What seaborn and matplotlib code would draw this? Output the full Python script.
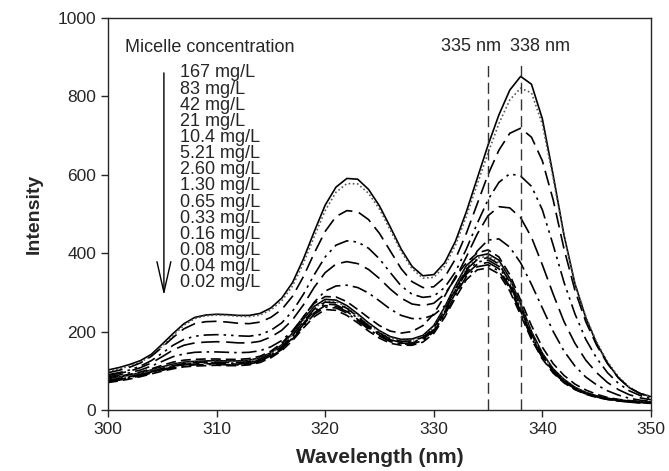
import numpy as np
import pandas as pd
import matplotlib
matplotlib.use('Agg')
import matplotlib.pyplot as plt
import seaborn as sns

# wavelength grid read at 1 nm steps (300 - 350 nm)
wavelength = list(range(300, 351))

conc_labels = ['167 mg/L', '83 mg/L', '42 mg/L', '21 mg/L', '10.4 mg/L', '5.21 mg/L', '2.60 mg/L',
               '1.30 mg/L', '0.65 mg/L', '0.33 mg/L', '0.16 mg/L', '0.08 mg/L', '0.04 mg/L', '0.02 mg/L']

# intensities
i_167 = [102,108,116,126,142,168,195,220,236,242, 244,243,241,241,246,260,285,325,385,455,
         522,568,590,588,562,520,466,410,366,342, 345,375,430,505,590,675,752,815,850,830,
         742,598,445,322,235,170,120,82,57,42,34]
i_83 = [98,104,112,122,138,163,190,216,233,240, 242,241,239,238,242,255,278,316,374,442,
        508,555,577,576,552,512,458,404,360,336, 338,366,420,493,575,655,730,790,820,808,
        728,590,442,322,238,173,123,85,59,43,35]
i_42 = [95,101,109,120,137,160,185,207,220,225, 226,224,221,220,224,236,256,290,340,400,
        455,493,508,505,485,450,405,360,327,312, 314,338,385,450,525,600,662,705,718,695,
        635,535,410,305,225,165,118,82,57,42,33]
i_21 = [90,95,102,112,126,145,165,180,188,191, 192,191,189,188,192,203,222,252,295,345,
        390,420,431,428,412,385,350,316,295,287, 290,312,352,410,475,536,580,602,596,570,
        510,420,325,245,180,132,95,68,49,37,29]
i_10 = [88,93,99,108,120,136,153,165,171,173, 174,173,171,171,175,186,203,230,268,313,
        350,372,378,373,358,335,308,285,270,266, 272,295,335,390,448,495,518,515,490,440,
        370,295,225,170,127,95,70,52,39,31,26]
i_5 = [85,89,95,102,112,124,136,143,147,148, 148,147,146,147,151,161,177,202,237,275,
       303,316,318,312,298,278,257,241,233,233, 242,265,305,355,405,433,436,415,375,320,
       260,200,150,112,84,64,49,38,30,25,22]
i_2 = [82,86,91,97,105,114,122,127,129,130, 130,129,129,131,137,150,170,200,238,272,
       289,288,276,256,235,215,201,196,200,215, 245,290,340,375,400,408,390,345,280,215,
       160,118,88,66,51,40,32,27,24,22,20]
i_1 = [80,84,89,95,102,110,117,122,124,125, 126,125,125,127,133,146,166,196,232,264,
       282,280,266,245,222,202,187,180,181,190, 215,262,318,368,392,398,382,335,270,200,
       145,105,78,58,45,36,30,26,23,21,20]
i_065 = [78,82,87,93,100,108,115,120,122,123, 124,123,123,125,131,144,163,192,228,260,
         278,276,262,241,218,199,184,177,178,187, 211,258,313,362,387,392,376,330,265,196,
         142,103,76,57,44,35,29,25,22,20,19]
i_033 = [76,80,85,91,98,106,113,118,121,122, 122,121,121,123,129,142,161,190,225,257,
         275,273,259,238,215,196,181,175,176,185, 208,254,309,358,383,388,372,326,261,193,
         140,101,75,56,43,35,29,25,22,20,19]
i_016 = [75,79,84,90,97,104,111,116,119,120, 120,119,119,121,127,140,159,187,221,252,
         270,268,254,234,212,193,179,172,173,182, 205,250,303,351,377,382,366,320,256,190,
         137,99,73,55,42,34,28,24,21,19,18]
i_008 = [74,78,83,89,96,103,110,115,117,118, 118,117,117,119,125,138,156,184,218,248,
         266,264,251,231,209,191,177,170,171,180, 202,246,298,346,371,376,360,315,252,187,
         135,98,72,54,42,34,28,24,21,19,18]
i_004 = [72,76,81,87,94,101,108,113,115,116, 116,115,115,117,123,136,154,181,214,244,
         262,260,247,227,206,188,174,168,168,177, 199,242,293,340,365,370,354,310,248,184,
         133,96,71,53,41,33,27,23,21,19,18]
i_002 = [70,74,79,85,92,99,105,110,112,113, 114,113,113,115,121,133,151,177,209,238,
         256,254,241,222,201,183,170,165,165,173, 195,236,286,332,357,362,347,303,242,180,
         130,94,69,52,40,32,27,23,20,18,17]

spectra = [i_167, i_83, i_42, i_21, i_10, i_5, i_2, i_1, i_065, i_033, i_016, i_008, i_004, i_002]
peak_lines = [335, 338]

sns.set_style('ticks')
plt.rcParams['font.family'] = ['Liberation Sans', 'DejaVu Sans']

# sigmaplot-ish line style cycle
styles = ['-', (0, (1, 1.5)), (0, (9, 4)), (0, (9, 3, 1.5, 3, 1.5, 3)), (0, (11, 4)),
          (0, (9, 3, 1.5, 3)), (0, (6, 3))]

fig = plt.figure(figsize=(6.69, 4.71), dpi=100)
ax = fig.add_axes([0.1614, 0.1295, 0.8116, 0.8333])

for k, vals in enumerate(spectra):
    ls = styles[k % len(styles)]
    col = '0.35' if ls == styles[1] else 'black'
    sns.lineplot(x=wavelength, y=vals, ax=ax, color=col, linestyle=ls, linewidth=1.2)

for w in peak_lines:
    ax.plot([w, w], [0, 887], color='0.2', linestyle=(0, (8, 4)), linewidth=1.0)

ax.text(333.4, 925, '335 nm', ha='center', va='center', fontsize=13)
ax.text(339.8, 925, '338 nm', ha='center', va='center', fontsize=13)

ax.text(301.6, 923, 'Micelle concentration', ha='left', va='center', fontsize=13)
ys = np.linspace(859, 324, len(conc_labels))
for lab, yy in zip(conc_labels, ys):
    ax.text(306.6, yy, lab, ha='left', va='center', fontsize=13)
ax.annotate('', xy=(305.15, 285), xytext=(305.15, 866),
            arrowprops=dict(arrowstyle='->,head_length=2.2,head_width=0.5', color='black', lw=1.0))

ax.set_xlim(300, 350)
ax.set_ylim(0, 1000)
ax.set_xticks(range(300, 351, 10))
ax.set_yticks(range(0, 1001, 200))
ax.tick_params(labelsize=12.5, direction='out', length=5, width=1)
for s in ax.spines.values():
    s.set_linewidth(1.0)
ax.set_xlabel('Wavelength (nm)', fontsize=15, fontweight='bold', labelpad=8)
ax.set_ylabel('Intensity', fontsize=14, fontweight='bold', labelpad=11)

fig.savefig('out.png', dpi=100)
